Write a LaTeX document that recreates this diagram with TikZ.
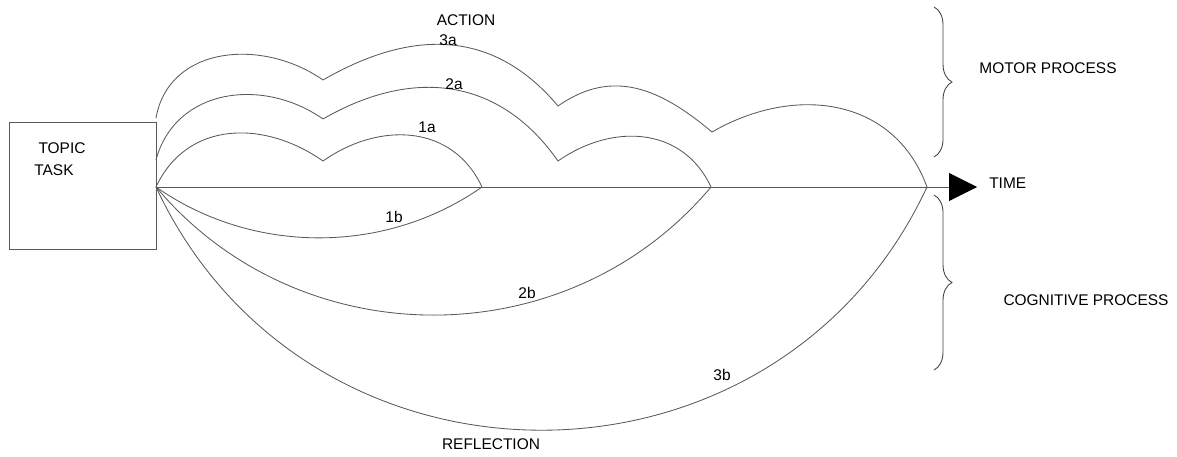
\documentclass[tikz,border=0pt]{standalone}
\usepackage{fontspec}
\setmainfont{Liberation Sans}
\usetikzlibrary{arrows.meta,decorations.pathreplacing}
\begin{document}
\begin{tikzpicture}[x=0.025cm,y=0.025cm,
  curve/.style={draw=black!65,line width=0.6pt},
  lbl/.style={inner sep=0pt,font=\fontsize{11}{13}\selectfont},
  brc/.style={draw=black!75,line width=0.6pt,decorate,decoration={brace,amplitude=0.45cm}}]
\useasboundingbox (0,0) rectangle (1177,456);
\node[curve,draw,minimum width=3.675cm,minimum height=3.175cm,inner sep=0pt] (task) at (82.5,270.5) {};
\node[lbl] (topic) at (62,308) {TOPIC};
\node[lbl] (tasklbl) at (54,286) {TASK};
% time axis
\coordinate (o) at (156,269);
\coordinate (e1) at (482,269);
\coordinate (e2) at (711,269);
\coordinate (e3) at (927,269);
\coordinate (tip) at (977,269);
\draw[curve,-{Triangle[length=0.7cm,width=0.7cm,color=black,fill=black]}] (o) -- (tip);
\node[lbl,anchor=west] (time) at (989,273) {TIME};
% action (upper arcs)
\coordinate (s2) at (156,296);
\coordinate (s3) at (156,338);
\coordinate (d11) at (323,295);
\coordinate (d21) at (323,337);
\coordinate (d22) at (558,295);
\coordinate (d31) at (323,376);
\coordinate (d32) at (558,350);
\coordinate (d33) at (712,324);
\draw[curve] (o) to[out=65,in=145,looseness=1.1] (d11) to[out=35,in=115,looseness=1.1] (e1);
\draw[curve] (s2) to[out=75,in=145,looseness=1.1] (d21) to[out=30,in=125,looseness=1.1] (d22)
  to[out=35,in=115,looseness=1.1] (e2);
\draw[curve] (s3) to[out=80,in=145,looseness=1.1] (d31) to[out=30,in=130,looseness=1.1] (d32)
  to[out=35,in=140,looseness=1.1] (d33) to[out=30,in=110,looseness=1.1] (e3);
\node[lbl] (act) at (466,436) {ACTION};
\node[lbl] (l3a) at (448,416) {3a};
\node[lbl] (l2a) at (454,372) {2a};
\node[lbl] (l1a) at (427,329) {1a};
% reflection (lower arcs)
\draw[curve] (o) to[out=-35,in=-145,looseness=0.93] (e1);
\draw[curve] (o) to[out=-50,in=-130,looseness=1.03] (e2);
\draw[curve] (o) to[out=-65,in=-115,looseness=1.19] (e3);
\node[lbl] (l1b) at (394,239) {1b};
\node[lbl] (l2b) at (527,163) {2b};
\node[lbl] (l3b) at (722,81) {3b};
\node[lbl] (refl) at (491,12) {REFLECTION};
% braces
\draw[brc] (934,449) -- (934,299);
\draw[brc] (934,261) -- (934,86);
\node[lbl] (motor) at (1048,388) {MOTOR PROCESS};
\node[lbl] (cogn) at (1086,156) {COGNITIVE PROCESS};
\end{tikzpicture}
\end{document}
